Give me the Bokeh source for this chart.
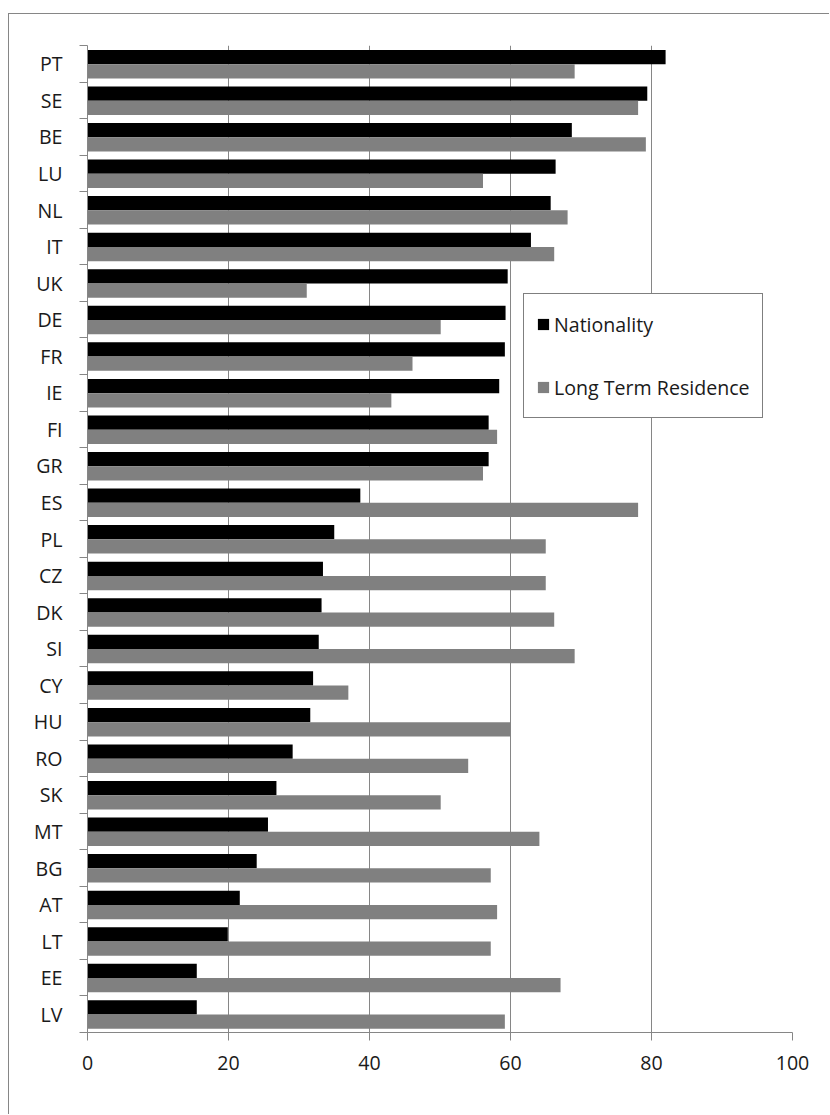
from bokeh.plotting import figure
from bokeh.models import Range1d, FixedTicker, Legend, LegendItem, ColumnDataSource
from bokeh.transform import dodge
from bokeh.embed import file_html
from bokeh.resources import INLINE

countries = ["PT", "SE", "BE", "LU", "NL", "IT", "UK", "DE", "FR", "IE", "FI", "GR", "ES",
             "PL", "CZ", "DK", "SI", "CY", "HU", "RO", "SK", "MT", "BG", "AT", "LT", "EE", "LV"]
nationality = [82.0, 79.4, 68.7, 66.4, 65.7, 62.9, 59.6, 59.3, 59.2, 58.4, 56.9, 56.9, 38.7,
               35.0, 33.4, 33.2, 32.8, 32.0, 31.6, 29.1, 26.8, 25.6, 24.0, 21.6, 19.9, 15.5, 15.5]
long_term = [69.1, 78.1, 79.2, 56.1, 68.1, 66.2, 31.1, 50.1, 46.1, 43.1, 58.1, 56.1, 78.1,
             65.0, 65.0, 66.2, 69.1, 37.0, 60.0, 54.0, 50.1, 64.1, 57.2, 58.1, 57.2, 67.1, 59.2]
series_names = ["Nationality", "Long Term Residence"]
x_ticks = [0, 20, 40, 60, 80, 100]

n = len(countries)
pos = [n - i - 0.5 for i in range(n)]
src = ColumnDataSource(dict(country=countries, pos=pos, nat=nationality, ltr=long_term))

FONT = "Open Sans"
FSIZE = "19.6px"
GRID = "#868686"
TXT = "#1a1a1a"

p = figure(width=821, height=1101, x_range=Range1d(0, 100), y_range=Range1d(0, n),
           output_backend="svg", toolbar_location=None,
           min_border_left=78, min_border_right=38, min_border_top=31, min_border_bottom=83,
           styles={"margin-left": "8px", "margin-top": "13px",
                   "border-left": "1px solid #868686", "border-top": "1px solid #868686"})
p.outline_line_color = None
p.background_fill_color = "white"
p.border_fill_color = "white"

r1 = p.hbar(y=dodge("pos", 0.185, range=p.y_range), left=0, right="nat", height=0.39,
            source=src, fill_color="black", line_color=None)
r2 = p.hbar(y=dodge("pos", -0.205, range=p.y_range), left=0, right="ltr", height=0.39,
            source=src, fill_color="#808080", line_color=None)

# x axis
xa = p.xaxis[0]
xa.ticker = FixedTicker(ticks=x_ticks)
xa.axis_line_color = GRID
xa.major_tick_line_color = GRID
xa.major_tick_out = 8
xa.major_tick_in = 0
xa.minor_tick_line_color = None
xa.major_label_text_font = FONT
xa.major_label_text_font_size = FSIZE
xa.major_label_text_color = TXT
xa.major_label_standoff = 15

# y axis: labels at centres, ticks at category boundaries
ya = p.yaxis[0]
ya.ticker = FixedTicker(ticks=pos, minor_ticks=list(range(n + 1)))
ya.major_label_overrides = {c: name for c, name in zip(pos, countries)}
ya.major_tick_line_color = None
ya.major_tick_out = 0
ya.major_tick_in = 0
ya.minor_tick_line_color = GRID
ya.minor_tick_out = 8
ya.minor_tick_in = 0
ya.axis_line_color = GRID
ya.major_label_text_font = FONT
ya.major_label_text_font_size = FSIZE
ya.major_label_text_color = TXT
ya.major_label_standoff = 17

p.xgrid.ticker = FixedTicker(ticks=x_ticks[1:])
p.xgrid.grid_line_color = GRID
p.ygrid.grid_line_color = None

legend = Legend(items=[LegendItem(label=series_names[0], renderers=[r1]),
                       LegendItem(label=series_names[1], renderers=[r2])],
                location=(436, 614), orientation="vertical",
                padding=12, spacing=27, label_height=36, glyph_height=14, glyph_width=14,
                label_standoff=4, label_width=195,
                label_text_font=FONT, label_text_font_size=FSIZE, label_text_color=TXT,
                border_line_color="black", border_line_width=1,
                background_fill_color="white", background_fill_alpha=1.0)
p.add_layout(legend, "center")

open("out.html", "w").write(file_html(p, INLINE))
